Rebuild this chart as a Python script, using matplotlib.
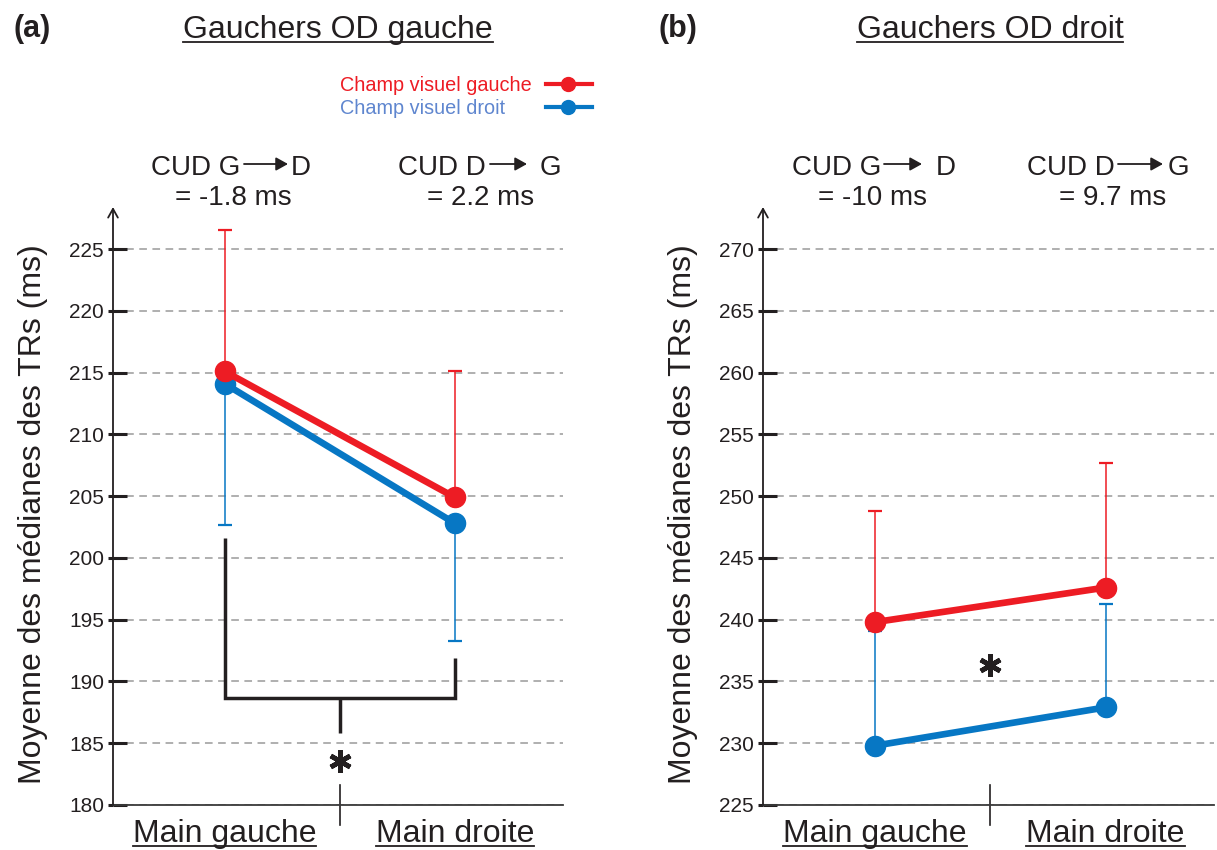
import matplotlib
matplotlib.use("Agg")
import matplotlib.pyplot as plt
from matplotlib.lines import Line2D
from matplotlib.patches import FancyArrowPatch
from matplotlib import transforms

# ---------------- data ----------------
categories = ["Main gauche", "Main droite"]

# panel (a) Gauchers OD gauche
a_red_mean = [215.1, 204.9]
a_red_err = [11.4, 10.2]      # drawn upward
a_blue_mean = [214.1, 202.8]
a_blue_err = [11.4, 9.5]      # drawn downward
a_yticks = [180, 185, 190, 195, 200, 205, 210, 215, 220, 225]

# panel (b) Gauchers OD droit
b_red_mean = [239.8, 242.6]
b_red_err = [9.0, 10.1]       # drawn upward
b_blue_mean = [229.8, 232.9]
b_blue_err = [9.3, 8.4]       # drawn upward
b_yticks = [225, 230, 235, 240, 245, 250, 255, 260, 265, 270]

titles = ["Gauchers OD gauche", "Gauchers OD droit"]
panel_letters = ["(a)", "(b)"]
legend_labels = ["Champ visuel gauche", "Champ visuel droit"]
ylabel = "Moyenne des médianes des TRs (ms)"
cud_a = [("CUD G", "D", "= -1.8 ms"), ("CUD D", "G", "= 2.2 ms")]
cud_b = [("CUD G", "D", "= -10 ms"), ("CUD D", "G", "= 9.7 ms")]

# ---------------- style ----------------
RED = "#ED1C24"
BLUE = "#0777C4"
BLUE_TXT = "#5F86CF"
INK = "#231F20"
GRID = "#9A9A9A"
plt.rcParams["font.family"] = ["Liberation Sans", "DejaVu Sans"]

W, H = 1217, 850
fig = plt.figure(figsize=(W / 100, H / 100), dpi=100)


def fx(x):
    return x / W


def fy(y):
    return 1 - y / H


underline_items = []


def add_text(x, y, s, under=False, under_y=None, **kw):
    t = fig.text(fx(x), fy(y), s, **kw)
    if under:
        underline_items.append((t, under_y))
    return t


def make_panel(left_px, right_px, ylim, yticks, red_mean, red_err, blue_mean,
               blue_err, blue_down):
    bottom_px, top_px = 805, 207
    ax = fig.add_axes([fx(left_px), fy(bottom_px), (right_px - left_px) / W,
                       (bottom_px - top_px) / H])
    ax.patch.set_alpha(0)
    x = [1, 2]
    ax.set_xlim(0.515, 2.47)
    ax.set_ylim(*ylim)
    for s in ["top", "right", "left"]:
        ax.spines[s].set_visible(False)
    ax.spines["bottom"].set_color("#3a3a3a")
    ax.spines["bottom"].set_linewidth(1.3)
    ax.set_xticks([])
    ax.set_yticks(yticks)
    ax.set_yticklabels([str(v) for v in yticks], fontsize=15, color=INK)
    ax.yaxis.remove_overlapping_locs = False
    ax.set_yticks(yticks, minor=True)
    ax.tick_params(axis="y", which="major", direction="out", length=3.5,
                   width=2.2, color=INK, pad=3)
    ax.tick_params(axis="y", which="minor", direction="in", length=10,
                   width=2.2, color=INK)
    ax.yaxis.grid(True, which="major", color=GRID, lw=1.1,
                  linestyle=(0, (5, 3.6)))
    ax.set_axisbelow(True)
    # y axis with open arrow
    ax.annotate("", xy=(0, 1), xytext=(0, 0), xycoords="axes fraction",
                textcoords="axes fraction",
                arrowprops=dict(arrowstyle="->,head_length=0.45,head_width=0.25",
                                lw=1.3, color=INK, shrinkA=0, shrinkB=0,
                                mutation_scale=14))
    # error bars
    zeros = [0, 0]
    ax.errorbar(x, red_mean, yerr=[zeros, red_err], fmt="none", ecolor=RED,
                elinewidth=1.1, capsize=4.7, capthick=1.6, zorder=2)
    if blue_down:
        byerr = [blue_err, zeros]
    else:
        byerr = [zeros, blue_err]
    ax.errorbar(x, blue_mean, yerr=byerr, fmt="none", ecolor=BLUE,
                elinewidth=1.1, capsize=4.7, capthick=1.6, zorder=2)
    ax.plot(x, blue_mean, color=BLUE, lw=4.8, marker="o", ms=14.5, zorder=3)
    ax.plot(x, red_mean, color=RED, lw=4.8, marker="o", ms=14.5, zorder=4)
    # separator tick at the middle of the x axis
    xt = ax.get_xaxis_transform()
    ax.plot([1.5, 1.5], [-0.034, 0.034], transform=xt, color=INK, lw=1.2,
            clip_on=False)
    # x category labels
    bt = transforms.blended_transform_factory(ax.transData, fig.transFigure)
    for xi, lab in zip(x, categories):
        t = ax.text(xi, fy(842), lab, transform=bt, ha="center",
                    va="baseline", fontsize=23, color=INK)
        underline_items.append((t, 846))
    return ax


ax_a = make_panel(113, 563, (180, 228.4), a_yticks, a_red_mean, a_red_err,
                  a_blue_mean, a_blue_err, blue_down=True)
ax_b = make_panel(763, 1214, (225, 273.4), b_yticks, b_red_mean, b_red_err,
                  b_blue_mean, b_blue_err, blue_down=False)

# significance bracket panel (a)
bk = dict(color=INK, lw=2.5, solid_capstyle="butt", solid_joinstyle="miter")
ax_a.plot([1, 1, 2, 2], [201.6, 188.7, 188.7, 191.9], **bk)
ax_a.plot([1.5, 1.5], [188.7, 185.8], **bk)
star = dict(marker=(6, 2, 0), ms=16, mew=3.4, color=INK, lw=0)
ax_a.plot([1.5], [183.6], **star)
ax_b.plot([1.5], [236.3], **star)

# y labels
add_text(33, 514, ylabel, rotation=90, ha="center", va="center",
         fontsize=23, color=INK)
add_text(683, 514, ylabel, rotation=90, ha="center", va="center",
         fontsize=23, color=INK)

# panel letters and titles
add_text(13, 37, panel_letters[0], fontsize=22, fontweight="bold", color=INK,
         ha="left", va="baseline")
add_text(658, 37, panel_letters[1], fontsize=22, fontweight="bold", color=INK,
         ha="left", va="baseline")
add_text(338, 38, titles[0], under=True, under_y=42, fontsize=23, color=INK,
         ha="center", va="baseline")
add_text(990, 38, titles[1], under=True, under_y=42, fontsize=23, color=INK,
         ha="center", va="baseline")

# legend (panel a)
add_text(340, 91, legend_labels[0], fontsize=14.3, color=RED, ha="left",
         va="baseline")
add_text(340, 114, legend_labels[1], fontsize=14.3, color=BLUE_TXT, ha="left",
         va="baseline")
for yy, col in [(84, RED), (107, BLUE)]:
    fig.add_artist(Line2D([fx(546), fx(592)], [fy(yy), fy(yy)], color=col,
                          lw=3))
    fig.add_artist(Line2D([fx(568)], [fy(yy)], color=col, marker="o", ms=10,
                          lw=0))


def cud(left_txt, right_txt, eq, right_edge, a0, a1, r_left, eq_center):
    add_text(right_edge, 175, left_txt, fontsize=20, color=INK, ha="right",
             va="baseline")
    fig.add_artist(FancyArrowPatch(
        (fx(a0), fy(164)), (fx(a1), fy(164)), transform=fig.transFigure,
        arrowstyle="-|>,head_length=0.45,head_width=0.25", mutation_scale=16,
        lw=1.3, color=INK, shrinkA=0, shrinkB=0))
    add_text(r_left, 175, right_txt, fontsize=20, color=INK, ha="left",
             va="baseline")
    add_text(eq_center, 205, eq, fontsize=20, color=INK, ha="center",
             va="baseline")


cud(*cud_a[0], 240, 244, 288, 291, 233)
cud(*cud_a[1], 486, 490, 527, 540, 481)
cud(*cud_b[0], 881, 884, 922, 936, 873)
cud(*cud_b[1], 1115, 1118, 1163, 1168, 1113)

# underlines
fig.canvas.draw()
r = fig.canvas.get_renderer()
for t, uy in underline_items:
    bb = t.get_window_extent(renderer=r)
    fig.add_artist(Line2D([bb.x0 / W, bb.x1 / W], [fy(uy), fy(uy)],
                          color=INK, lw=1.3))

fig.savefig("out.png", dpi=100)
